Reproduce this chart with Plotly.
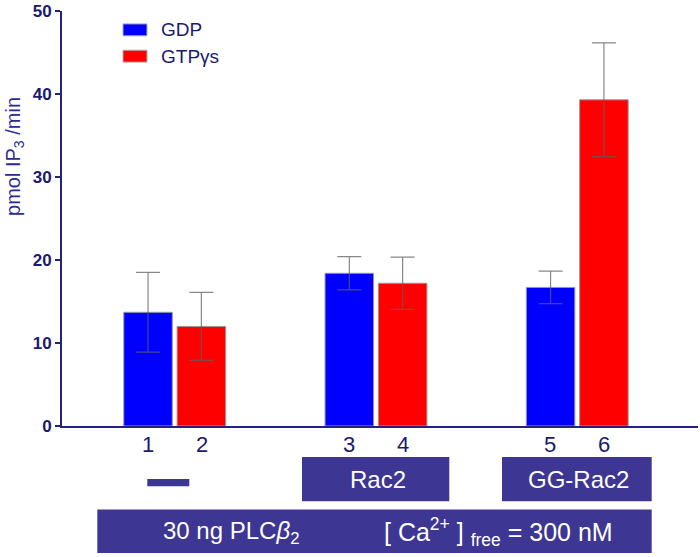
import plotly.graph_objects as go

# ---- data ----
groups = ["control", "Rac2", "GG-Rac2"]
series_names = ["GDP", "GTPγs"]
gdp_values = [13.7, 18.4, 16.7]
gdp_errors = [4.8, 2.0, 1.95]
gtp_values = [12.0, 17.2, 39.3]
gtp_errors = [4.1, 3.15, 6.85]
lane_labels = ["1", "2", "3", "4", "5", "6"]
y_ticks = [0, 10, 20, 30, 40, 50]
y_title = "pmol IP<sub>3</sub> /min"
box_labels = ["Rac2", "GG-Rac2"]
bottom_label_left = "30 ng PLC<i>β</i><sub>2</sub>"
bottom_label_right = "[ Ca<sup>2+</sup> ] <sub>free</sub> = 300 nM"

# ---- layout geometry (pixels) ----
W, H = 700, 557
L, R, T, B = 62, 2, 8, 131
PW, PH = W - L - R, H - T - B
Y0 = T + PH


def px(x):
    return (x - L) / PW


def py(y):
    return (Y0 - y) / PH


NAVY = "#1a1a70"
AXIS = "#23237f"
BOX = "#3d3692"
FONT = "Liberation Sans, Arial, sans-serif"

fig = go.Figure()
err_style = dict(type="data", color="rgba(95,95,95,0.75)", thickness=1.2, width=12)
fig.add_trace(go.Bar(
    x=groups, y=gdp_values, name=series_names[0],
    marker=dict(color="#0000ff", line=dict(color="#9a9a9a", width=1)),
    error_y=dict(array=gdp_errors, **err_style),
))
fig.add_trace(go.Bar(
    x=groups, y=gtp_values, name=series_names[1],
    marker=dict(color="#ff0000", line=dict(color="#9a9a9a", width=1)),
    error_y=dict(array=gtp_errors, **err_style),
))

shapes = []
annotations = []

# legend (manual)
leg_colors = ["#0000ff", "#ff0000"]
leg_y = [27, 53.5]
for name, col, yc in zip(series_names, leg_colors, leg_y):
    shapes.append(dict(type="rect", xref="paper", yref="paper",
                       x0=px(123), x1=px(147), y0=py(yc - 6), y1=py(yc + 6),
                       fillcolor=col, line=dict(color="#b0b0b0", width=1)))
    annotations.append(dict(text=name, xref="paper", yref="paper",
                            x=px(159), y=py(yc), xanchor="left", yanchor="middle",
                            showarrow=False, font=dict(size=19, color=NAVY, family=FONT)))

# lane numbers under bars
shifts = [-27, 27]
for i, lab in enumerate(lane_labels):
    annotations.append(dict(text=lab, xref="x", yref="paper", x=groups[i // 2],
                            xshift=shifts[i % 2], y=py(445), yanchor="middle",
                            showarrow=False, font=dict(size=22, color=NAVY, family=FONT)))

# y-axis title
annotations.append(dict(text=y_title, textangle=-90, xref="paper", yref="paper",
                        x=px(15), y=py(155), xanchor="center", yanchor="middle",
                        showarrow=False, font=dict(size=20, color="#2b2b96", family=FONT)))

# condition boxes
shapes.append(dict(type="rect", xref="paper", yref="paper",
                   x0=px(147.3), x1=px(189.3), y0=py(486.7), y1=py(479.3),
                   fillcolor=BOX, line=dict(width=0)))
box_x = [(302, 449.3), (502, 651.7)]
for lab, (a, b) in zip(box_labels, box_x):
    shapes.append(dict(type="rect", xref="paper", yref="paper",
                       x0=px(a), x1=px(b), y0=py(501.7), y1=py(457.3),
                       fillcolor=BOX, line=dict(width=0)))
    annotations.append(dict(text=lab, xref="paper", yref="paper",
                            x=px((a + b) / 2 + 2), y=py(480), xanchor="center", yanchor="middle",
                            showarrow=False, font=dict(size=24, color="white", family=FONT)))
shapes.append(dict(type="rect", xref="paper", yref="paper",
                   x0=px(97.3), x1=px(651.7), y0=py(554), y1=py(510),
                   fillcolor=BOX, line=dict(width=0)))
annotations.append(dict(text=bottom_label_left, xref="paper", yref="paper",
                        x=px(231), y=py(533), xanchor="center", yanchor="middle",
                        showarrow=False, font=dict(size=24, color="white", family=FONT)))
annotations.append(dict(text=bottom_label_right, xref="paper", yref="paper",
                        x=px(498), y=py(533), xanchor="center", yanchor="middle",
                        showarrow=False, font=dict(size=25, color="white", family=FONT)))

fig.update_layout(
    width=W, height=H,
    margin=dict(l=L, r=R, t=T, b=B, pad=0),
    paper_bgcolor="white", plot_bgcolor="white",
    showlegend=False,
    barmode="group", bargap=0.47, bargroupgap=0.09,
    shapes=shapes, annotations=annotations,
    font=dict(family=FONT),
)
fig.update_xaxes(range=[-0.56, 2.6], showline=True, linecolor=AXIS, linewidth=2,
                 showticklabels=False, ticks="", showgrid=False, zeroline=False)
fig.update_yaxes(range=[0, 50], tickvals=y_ticks, ticks="outside", ticklen=5, tickwidth=2,
                 tickcolor=AXIS, showline=True, linecolor=AXIS, linewidth=2,
                 showgrid=False, zeroline=False, ticklabeloverflow="allow",
                 tickfont=dict(size=17, color=NAVY, family="Liberation Sans, Arial", weight="bold"))

fig.write_html("out.html", config={"displayModeBar": False},
               post_script="document.body.style.margin='0';")
